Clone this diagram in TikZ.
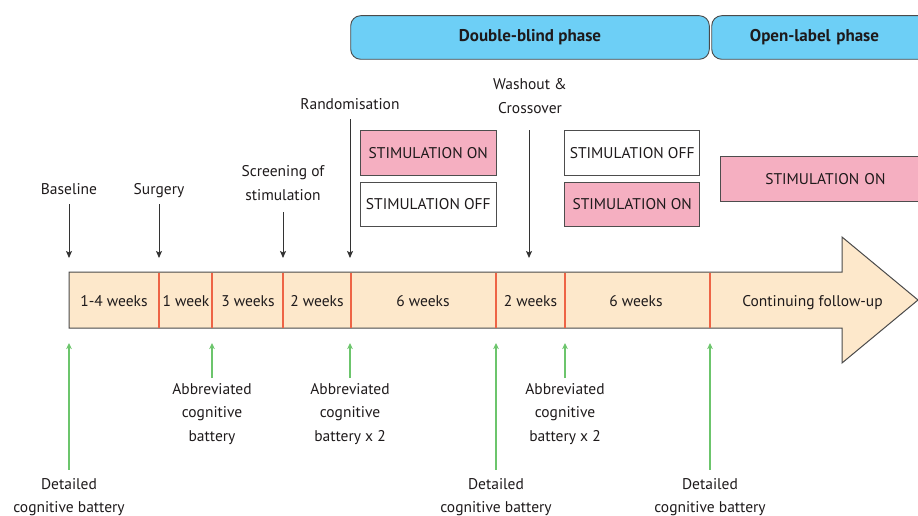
\documentclass[tikz,border=0pt]{standalone}
\usepackage{fontspec}
\setmainfont{PT Sans}
\usetikzlibrary{arrows.meta}

\definecolor{ink}{HTML}{1E1A1B}
\definecolor{barfill}{HTML}{FDE8CB}
\definecolor{barline}{HTML}{4A4A4A}
\definecolor{divider}{HTML}{EE6446}
\definecolor{phaseblue}{HTML}{6DCFF6}
\definecolor{stimpink}{HTML}{F5AFC1}
\definecolor{boxline}{HTML}{4D4D4D}
\definecolor{pointer}{HTML}{333333}
\definecolor{assess}{HTML}{6CC56C}

\tikzset{
  txt/.style={inner sep=2pt, text=ink, align=center},
  phase/.style={draw=barline, line width=0.9pt, fill=phaseblue, rounded corners=10pt,
    minimum height=43.6pt, inner sep=0pt, text=ink, font=\fontsize{17}{20}\selectfont\bfseries},
  stimbox/.style={draw=boxline, line width=0.8pt, minimum width=135.3pt, minimum height=44.6pt,
    inner sep=0pt, text=ink},
  stimon/.style={stimbox, fill=stimpink},
  stimoff/.style={stimbox, fill=white},
  bar/.style={draw=barline, line width=1pt, fill=barfill},
  divline/.style={draw=divider, line width=1.3pt},
  darrow/.style={draw=pointer, line width=1pt, -{Stealth[length=7pt,width=6pt,inset=1.5pt]}},
  garrow/.style={draw=assess, line width=1.1pt, -{Stealth[length=6pt,width=5.5pt,inset=1.5pt]}}
}

\begin{document}
\begin{tikzpicture}[x=1pt, y=-1pt, font=\fontsize{15.5}{23.5}\selectfont]
\clip (0,0) rectangle (918,516);

% study phases
\node[phase, minimum width=358.6pt] (dbl) at (530,37.5) {Double-blind phase};
\node[phase, anchor=west, text width=240pt, align=left] (opl) at (711.3,37.5)
  {\makebox[205.4pt]{Open-label phase}};

% stimulation arms
\node[stimon]  (on1)  at (428.3,153.0) {STIMULATION ON};
\node[stimoff] (off1) at (428.3,204.2) {STIMULATION OFF};
\node[stimoff] (off2) at (632.2,153.0) {STIMULATION OFF};
\node[stimon]  (on2)  at (632.2,204.2) {STIMULATION ON};
\node[stimon, anchor=west, minimum height=45.3pt, text width=240pt, align=left]
  (on3) at (720,178.8) {\makebox[210pt]{STIMULATION ON}};

% timeline arrow
\draw[bar] (69,272) -- (842,272) -- (842,237) -- (918,300) -- (842,363)
  -- (842,328) -- (69,328) -- cycle;
\foreach \x in {159,212,283,351,496,565,710}
  \draw[divline] (\x,272.5) -- (\x,327.5);

% durations
\foreach \x/\t/\n in {114/1-4 weeks/d1, 186/1 week/d2, 248/3 weeks/d3, 317/2 weeks/d4,
  423/6 weeks/d5, 530.5/2 weeks/d6, 636/6 weeks/d7, 812.5/Continuing follow-up/d8}
  \node[txt, anchor=base] (\n) at (\x,306) {\t};

% events above the timeline
\coordinate (tipline) at (0,258);
\node[txt, anchor=base] (baseline) at (69,194) {Baseline};
\node[txt, anchor=base] (surgery) at (159,194) {Surgery};
\node[txt] (screen) at (283,183.2) {Screening of\\stimulation};
\node[txt, anchor=base] (random) at (350,110) {Randomisation};
\node[txt] (washout) at (530,96.2) {Washout \&\\Crossover};

\draw[darrow, shorten <=8pt] (baseline.south) -- (baseline.south |- tipline);
\draw[darrow, shorten <=4.6pt] (surgery.south) -- (surgery.south |- tipline);
\draw[darrow, shorten <=9.5pt] (screen.south) -- (screen.south |- tipline);
\draw[darrow, shorten <=7pt] (random.south) -- (random.south |- tipline);
\draw[darrow, shorten <=14.5pt] ([xshift=-1pt]washout.south) -- ([xshift=-1pt]washout.south |- tipline);

% assessments below the timeline
\coordinate (gline) at (0,343);
\node[txt] (det1) at (69,497.2) {Detailed\\cognitive battery};
\node[txt] (abb1) at (212,413.6) {Abbreviated\\cognitive\\battery};
\node[txt] (abb2) at (350,413.6) {Abbreviated\\cognitive\\battery x 2};
\node[txt] (det2) at (496,497.2) {Detailed\\cognitive battery};
\node[txt] (abb3) at (565,413.6) {Abbreviated\\cognitive\\battery x 2};
\node[txt] (det3) at (710,497.2) {Detailed\\cognitive battery};

\foreach \n/\s in {det1/6.2, abb1/2.8, abb2/2.8, det2/6.2, abb3/2.8, det3/6.2}
  \draw[garrow, shorten <=\s pt] (\n.north) -- (\n.north |- gline);
\end{tikzpicture}
\end{document}
